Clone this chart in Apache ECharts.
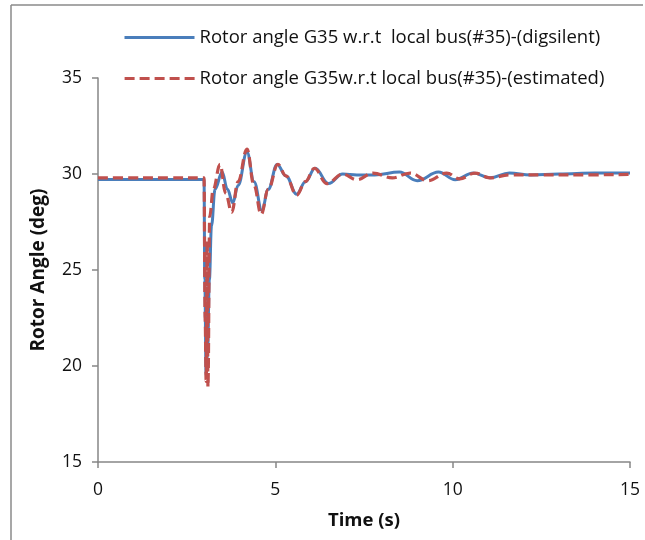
<!DOCTYPE html>
<html>
<head>
<meta charset="utf-8">
<script src="https://cdn.jsdelivr.net/npm/echarts@6/dist/echarts.min.js"></script>
<style>
  html, body { margin: 0; padding: 0; background: #fff; }
  #chart { width: 645px; height: 540px; }
</style>
</head>
<body>
<div id="chart"></div>
<script>
// data: [time (s), rotor angle (deg)]
var digsilent = [
  [0, 29.72], [1, 29.72], [2, 29.72], [2.99, 29.72],
  [3.01, 24.5], [3.05, 19.5], [3.09, 20.8], [3.14, 24.5], [3.2, 27.3],
  [3.3, 29.2], [3.5, 30.1], [3.65, 29.2], [3.8, 28.5], [3.95, 29.4],
  [4.2, 31.15], [4.4, 29.6], [4.62, 28.1], [4.8, 29.2], [5.05, 30.5],
  [5.3, 29.9], [5.6, 28.95], [5.85, 29.6], [6.12, 30.3], [6.5, 29.5],
  [6.9, 30.0], [7.3, 29.95], [7.8, 29.95], [8.5, 30.1], [9.0, 29.65],
  [9.6, 30.1], [10.07, 29.7], [10.58, 30.05], [11.05, 29.8], [11.6, 30.05],
  [12.2, 29.95], [13, 30.0], [14, 30.05], [15, 30.05]
];
var estimated = [
  [0, 29.8], [1, 29.8], [2, 29.8], [2.99, 29.8],
  [3.02, 22.5], [3.05, 19.2], [3.08, 26.5], [3.1, 18.9], [3.15, 27.8],
  [3.25, 29.2], [3.44, 30.5], [3.6, 29.0], [3.77, 28.0], [3.95, 29.6],
  [4.2, 31.3], [4.4, 29.4], [4.6, 27.9], [4.8, 29.2], [5.07, 30.5],
  [5.3, 29.9], [5.6, 28.9], [5.85, 29.6], [6.1, 30.3], [6.45, 29.5],
  [6.9, 30.0], [7.3, 29.7], [7.75, 30.05], [8.3, 29.8], [8.8, 30.05],
  [9.3, 29.65], [9.83, 30.05], [10.2, 29.75], [10.63, 30.05], [11.05, 29.8],
  [11.6, 29.95], [12.5, 29.95], [13.5, 29.95], [15, 29.98]
];
var seriesNames = [
  'Rotor angle G35 w.r.t  local bus(#35)-(digsilent)',
  'Rotor angle G35w.r.t local bus(#35)-(estimated)'
];

var chart = echarts.init(document.getElementById('chart'));
var font = 'Open Sans';
var legendText = { fontFamily: font, fontSize: 18.5, color: '#111' };
chart.setOption({
  animation: false,
  grid: { left: 98, right: 15, top: 78, bottom: 78 },
  // two legends so each row sits where the original has it
  legend: [
    { left: 123, top: 28, padding: 0, itemWidth: 70, itemHeight: 14, itemGap: 5,
      itemStyle: { opacity: 0 }, lineStyle: { width: 3 },
      textStyle: legendText, data: [seriesNames[0]] },
    { left: 123, top: 69, padding: 0, itemWidth: 70, itemHeight: 14, itemGap: 5,
      itemStyle: { opacity: 0 }, lineStyle: { width: 3.2 },
      textStyle: legendText, data: [seriesNames[1]] }
  ],
  xAxis: {
    type: 'value', min: 0, max: 15, interval: 5,
    name: 'Time (s)', nameLocation: 'middle', nameGap: 49,
    nameTextStyle: { fontFamily: font, fontSize: 18.5, fontWeight: 'bold', color: '#111' },
    axisLine: { lineStyle: { color: '#868686', width: 1.5 } },
    axisTick: { show: true, length: 6, lineStyle: { color: '#868686', width: 1.5 } },
    axisLabel: { fontFamily: font, fontSize: 17.5, color: '#111', margin: 19 },
    splitLine: { show: false }
  },
  yAxis: {
    type: 'value', min: 15, max: 35, interval: 5,
    name: 'Rotor Angle (deg)', nameLocation: 'middle', nameGap: 50,
    nameTextStyle: { fontFamily: font, fontSize: 19, fontWeight: 'bold', color: '#111' },
    axisLine: { show: true, lineStyle: { color: '#868686', width: 1.5 } },
    axisTick: { show: true, length: 6, lineStyle: { color: '#868686', width: 1.5 } },
    axisLabel: { fontFamily: font, fontSize: 17.5, color: '#111', margin: 16 },
    splitLine: { show: false }
  },
  graphic: [
    { type: 'line', shape: { x1: 11, y1: 5, x2: 643, y2: 5 }, style: { stroke: '#8a8a8a', lineWidth: 1.5 } },
    { type: 'line', shape: { x1: 11, y1: 5, x2: 11, y2: 540 }, style: { stroke: '#8a8a8a', lineWidth: 1.5 } }
  ],
  series: [
    {
      name: seriesNames[0], type: 'line', data: digsilent,
      symbol: 'none', smooth: 0.4, smoothMonotone: 'x',
      lineStyle: { color: '#4a7ebb', width: 3 },
      itemStyle: { color: '#4a7ebb' }
    },
    {
      name: seriesNames[1], type: 'line', data: estimated,
      symbol: 'none', smooth: 0.4, smoothMonotone: 'x',
      lineStyle: { color: '#c0504d', width: 3.2, type: [10, 5] },
      itemStyle: { color: '#c0504d' }
    }
  ]
});
</script>
</body>
</html>
